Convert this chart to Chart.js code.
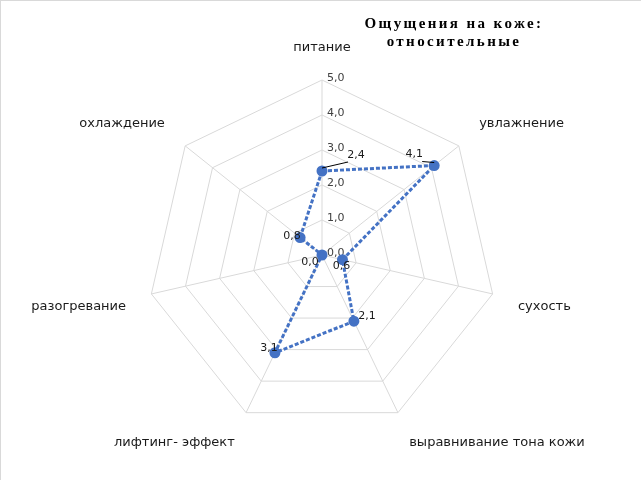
<!DOCTYPE html>
<html>
<head>
<meta charset="utf-8">
<script src="https://cdn.jsdelivr.net/npm/chart.js@4.4.0/dist/chart.umd.min.js"></script>
<style>
    html, body { margin: 0; padding: 0; background: #fff; overflow: hidden; }
    #wrap { width: 640px; height: 479px; border-top: 1px solid #d9d9d9; border-left: 1px solid #d9d9d9; }
</style>
</head>
<body>
<div id="wrap"><canvas id="skinChart" width="640" height="479"></canvas></div>
<script>
// данные диаграммы
const categories = ['питание', 'увлажнение', 'сухость', 'выравнивание тона кожи', 'лифтинг- эффект', 'разогревание', 'охлаждение'];
const values = [2.4, 4.1, 0.6, 2.1, 3.1, 0.0, 0.8];
const tickValues = [0, 1, 2, 3, 4, 5];
const titleLines = ['Ощущения на коже:', 'относительные'];

// сдвиги подписей значений (как их расставили вручную)
const labelNudge = [[34, -16], [-20, -11], [-1, 6], [13, -5], [-6, -5], [-12, 7], [-8, -1]];
const leaderLines = { 0: [-8, 7], 1: [8, 7] };

function fmt(v) {
    return v.toFixed(1).replace('.', ',');
}

const skinPlugin = {
    id: 'skinLabels',
    beforeDatasetsDraw(chart) {
        const ctx = chart.ctx;
        const scale = chart.scales.r;
        ctx.save();
        ctx.font = '11px "DejaVu Sans"';
        ctx.fillStyle = '#404040';
        ctx.textAlign = 'left';
        ctx.textBaseline = 'middle';
        tickValues.forEach(v => {
            const d = scale.getDistanceFromCenterForValue(v);
            ctx.fillText(fmt(v), scale.xCenter + 5, scale.yCenter - d - 2);
        });

        // подписи осей
        ctx.font = '13px "DejaVu Sans"';
        ctx.fillStyle = '#1a1a1a';
        categories.forEach((name, i) => {
            const pos = scale.getPointPosition(i, scale.drawingArea + 26);
            const angle = Math.round(i * 360 / categories.length);
            if (angle === 0 || angle === 180) ctx.textAlign = 'center';
            else if (angle < 180) ctx.textAlign = 'left';
            else ctx.textAlign = 'right';
            if (angle === 90 || angle === 270) ctx.textBaseline = 'middle';
            else if (angle > 270 || angle < 90) ctx.textBaseline = 'bottom';
            else ctx.textBaseline = 'top';
            ctx.fillText(name, pos.x, pos.y);
        });
        ctx.restore();
    },
    afterDatasetsDraw(chart) {
        const ctx = chart.ctx;
        const meta = chart.getDatasetMeta(0);
        ctx.save();
        ctx.font = '11px "DejaVu Sans"';
        ctx.fillStyle = '#1a1a1a';
        ctx.textAlign = 'center';
        ctx.textBaseline = 'middle';
        meta.data.forEach((pt, i) => {
            const lx = pt.x + labelNudge[i][0];
            const ly = pt.y + labelNudge[i][1];
            if (leaderLines[i]) {
                ctx.strokeStyle = '#000';
                ctx.lineWidth = 1;
                ctx.beginPath();
                ctx.moveTo(pt.x, pt.y - 3);
                ctx.lineTo(lx + leaderLines[i][0], ly + leaderLines[i][1]);
                ctx.stroke();
            }
            ctx.fillText(fmt(values[i]), lx, ly);
        });

        // заголовок
        ctx.font = 'bold 15px "Liberation Serif"';
        ctx.letterSpacing = '2.4px';
        ctx.fillStyle = '#000';
        ctx.fillText(titleLines[0], 453, 23);
        ctx.fillText(titleLines[1], 453, 41);
        ctx.restore();
    }
};

const skinChart = new Chart(document.getElementById('skinChart'), {
    type: 'radar',
    data: {
        labels: categories,
        datasets: [{
            label: 'Ощущения',
            data: values,
            fill: false,
            borderColor: '#4472C4',
            borderWidth: 3,
            borderDash: [4, 2],
            tension: 0,
            pointRadius: 4,
            pointBackgroundColor: '#4472C4',
            pointBorderColor: '#4472C4'
        }]
    },
    options: {
        responsive: false,
        animation: false,
        layout: {
            padding: { left: 146, right: 144, top: 79, bottom: 50 }
        },
        plugins: {
            legend: { display: false },
            tooltip: { enabled: false }
        },
        scales: {
            r: {
                min: 0,
                max: 5,
                ticks: { display: false, stepSize: 1 },
                pointLabels: { display: false },
                grid: { color: '#d9d9d9', lineWidth: 1 },
                angleLines: { color: '#d9d9d9', lineWidth: 1 }
            }
        }
    },
    plugins: [skinPlugin]
});
</script>
</body>
</html>
